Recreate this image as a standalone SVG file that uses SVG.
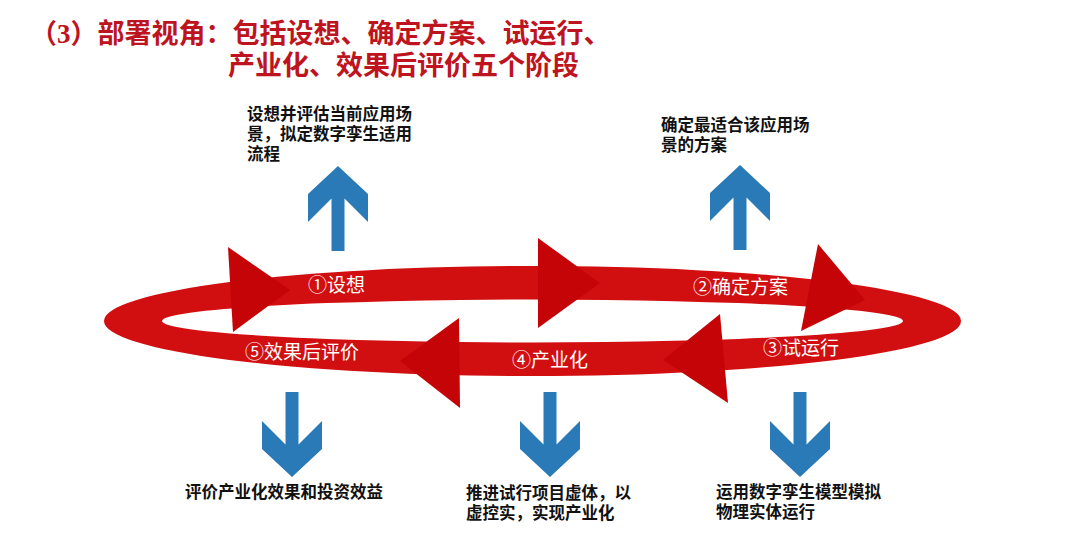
<svg xmlns="http://www.w3.org/2000/svg" xmlns:xlink="http://www.w3.org/1999/xlink" width="1080" height="540" viewBox="0 0 1080 540">
  <style>
    .title { font-family: "Liberation Serif", "Noto Sans CJK SC", serif; font-size: 27px; font-weight: bold; fill: #be1420; }
    .stage { font-family: "Noto Sans CJK SC", sans-serif; font-size: 19px; fill: #ffffff; }
    .desc { font-family: "Noto Sans CJK SC", sans-serif; font-size: 16.5px; font-weight: bold; fill: #111111; }
    .ring { fill: #d20f10; fill-rule: evenodd; }
    .head { fill: #c50407; }
    .blue { fill: #2a7ab8; }
  </style>
  <defs>
    <path id="arrowUp" d="M0,0 L30,28 L30,56 L6.5,32.5 L6.5,85 L-6.5,85 L-6.5,32.5 L-30,56 L-30,28 Z"/>
  </defs>
  <rect width="1080" height="540" fill="#ffffff"/>

  <g id="title">
    <text class="title" x="30" y="43">（3）部署视角：包括设想、确定方案、试运行、<tspan x="228" y="75">产业化、效果后评价五个阶段</tspan></text>
  </g>

  <g id="connectors">
    <path class="ring" d="M104,321 A428.5,55 0 1 0 961,321 A428.5,55 0 1 0 104,321 Z M162,321 A370.5,21.5 0 1 0 903,321 A370.5,21.5 0 1 0 162,321 Z"/>
    <polygon class="head" points="228,247 233,332 290,290"/>
    <polygon class="head" points="538,238 538,328 600,283"/>
    <polygon class="head" points="818,244 801,331 865,300"/>
    <polygon class="head" points="720,314 728,403 663,360"/>
    <polygon class="head" points="459,318 460,408 400,361"/>
  </g>

  <g id="stage1"><text class="stage" x="308" y="292">①设想</text></g>
  <g id="stage2"><text class="stage" x="693" y="294">②确定方案</text></g>
  <g id="stage3"><text class="stage" x="763" y="355">③试运行</text></g>
  <g id="stage4"><text class="stage" x="512" y="367">④产业化</text></g>
  <g id="stage5"><text class="stage" x="245" y="359">⑤效果后评价</text></g>

  <g id="desc1">
    <use href="#arrowUp" xlink:href="#arrowUp" class="blue" x="338" y="166"/>
    <text class="desc" x="247" y="120">设想并评估当前应用场<tspan x="247" y="140">景，拟定数字孪生适用</tspan><tspan x="247" y="160">流程</tspan></text>
  </g>
  <g id="desc2">
    <use href="#arrowUp" xlink:href="#arrowUp" class="blue" x="740" y="165"/>
    <text class="desc" x="661" y="131">确定最适合该应用场<tspan x="661" y="151">景的方案</tspan></text>
  </g>
  <g id="desc3">
    <use href="#arrowUp" xlink:href="#arrowUp" class="blue" transform="translate(800,477) scale(1,-1)"/>
    <text class="desc" x="716" y="498">运用数字孪生模型模拟<tspan x="716" y="518">物理实体运行</tspan></text>
  </g>
  <g id="desc4">
    <use href="#arrowUp" xlink:href="#arrowUp" class="blue" transform="translate(550,477) scale(1,-1)"/>
    <text class="desc" x="466" y="499">推进试行项目虚体，以<tspan x="466" y="519">虚控实，实现产业化</tspan></text>
  </g>
  <g id="desc5">
    <use href="#arrowUp" xlink:href="#arrowUp" class="blue" transform="translate(292,477) scale(1,-1)"/>
    <text class="desc" x="185" y="498">评价产业化效果和投资效益</text>
  </g>
</svg>
